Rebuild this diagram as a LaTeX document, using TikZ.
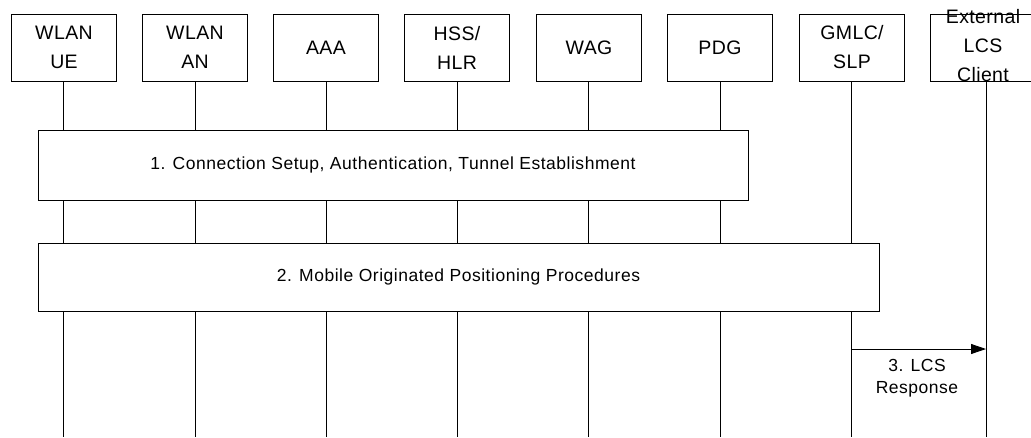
\documentclass[tikz,border=0pt]{standalone}
\usepackage{fontspec}
\setmainfont{Liberation Sans}
\newfontfamily\hdrfont[LetterSpace=2]{Liberation Sans}
\newfontfamily\stpfont[LetterSpace=3]{Liberation Sans}
\usetikzlibrary{arrows.meta}
\begin{document}
\begin{tikzpicture}[x=1pt,y=-1pt,
  ent/.style={draw,line width=0.8pt,minimum width=105pt,minimum height=67pt,align=center,inner sep=0pt,font=\hdrfont\fontsize{19.5}{29}\selectfont},
  enttext/.style={align=center,inner sep=0pt,font=\hdrfont\fontsize{19.5}{29}\selectfont},
  stepbox/.style={draw,line width=0.8pt,fill=white,inner sep=0pt,font=\stpfont\fontsize{17.5}{22}\selectfont},
  life/.style={line width=0.7pt},
  msg/.style={line width=0.8pt,-{Triangle[length=15pt,width=10pt]}}]
\useasboundingbox (0,0) rectangle (1031,437);
\clip (0,0) rectangle (1031,437);
\node[ent] (ue)   at (64,47.5)  {WLAN\\UE};
\node[ent] (an)   at (195,47.5) {WLAN\\AN};
\node[ent] (aaa)  at (326,47.5) {AAA};
\node[ent] (hss)  at (457,47.5) {HSS/\\HLR};
\node[ent] (wag)  at (589,47.5) {WAG};
\node[ent] (pdg)  at (720,47.5) {PDG};
\node[ent] (gmlc) at (852,47.5) {GMLC/\\SLP};
\node[ent] (ext) at (983,47.5) {};
\node[enttext] (exttxt) at (983,46) {External\\LCS\\Client};
\foreach \n/\x in {ue/63,an/195,aaa/326,hss/457,wag/588,pdg/720,gmlc/851,ext/986}{
  \coordinate (\n-top) at (\x,81);
  \coordinate (\n-end) at (\x,437);
  \draw[life] (\n-top) -- (\n-end);
}
\node[stepbox,minimum width=710pt,minimum height=70pt] (s1) at (393,165) {1. Connection Setup, Authentication, Tunnel Establishment};
\node[stepbox,minimum width=841pt,minimum height=68pt] (s2) at (458.5,277) {2. Mobile Originated Positioning Procedures};
\coordinate (m3s) at (851,349);
\coordinate (m3e) at (986,349);
\draw[msg] (m3s) -- (m3e);
\node[align=center,font=\stpfont\fontsize{17.5}{22}\selectfont,inner sep=0pt] (l3) at (917,378) {3. LCS\\Response};
\end{tikzpicture}
\end{document}
